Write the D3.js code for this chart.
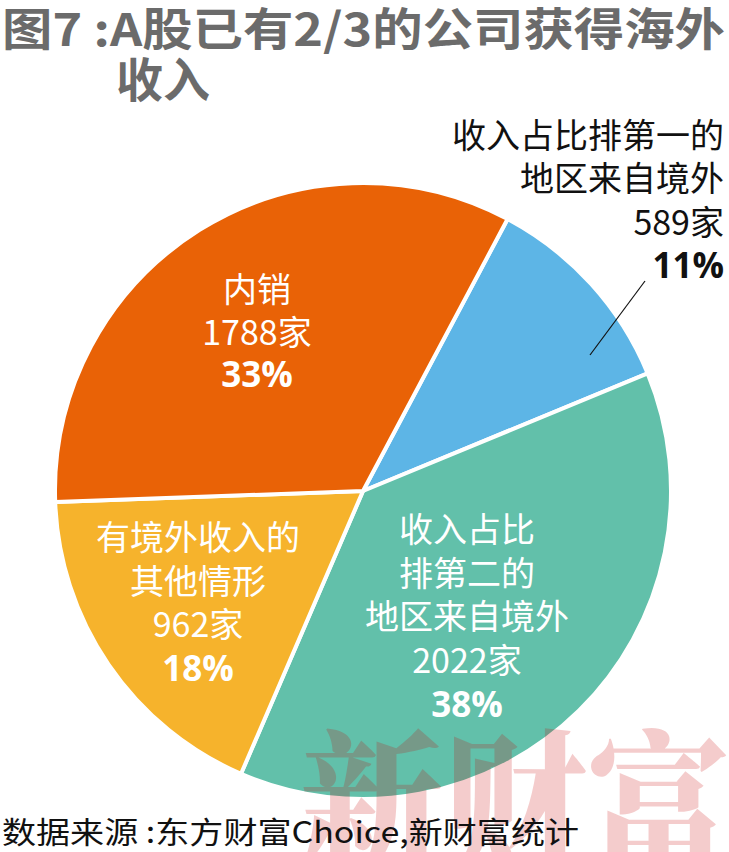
<!DOCTYPE html>
<html><head><meta charset="utf-8">
<script src="https://cdn.jsdelivr.net/npm/d3@7"></script>
<style>
html,body{margin:0;padding:0;background:#fff;}
svg{display:block;font-family:"Noto Sans CJK SC","Noto Sans",sans-serif;}
</style></head>
<body><svg id="c" width="729" height="852"></svg>
<script>
const categories = ["收入占比排第一的地区来自境外", "收入占比排第二的地区来自境外", "有境外收入的其他情形", "内销"];
const counts = [589, 2022, 962, 1788];
const percents = ["11%", "38%", "18%", "33%"];
const labelLines = [
  ["收入占比排第一的", "地区来自境外"],
  ["收入占比", "排第二的", "地区来自境外"],
  ["有境外收入的", "其他情形"],
  ["内销"]
];
const colors = ["#5db5e6", "#62c0aa", "#f6b32c", "#e96206"];
const titleLines = ["图7 :A股已有2/3的公司获得海外", "收入"];
const sourceText = "数据来源 :东方财富Choice,新财富统计";
const watermark = "新财富";

const svg = d3.select("#c");
const cx = 363, cy = 491, R = 308;
const start = 28 * Math.PI / 180;

// title
svg.append("text").attr("x", 2).attr("y", 46).attr("fill", "#6b6b6b")
  .attr("font-size", 45).attr("font-weight", 700).attr("textLength", 723).attr("lengthAdjust","spacingAndGlyphs")
  .text(titleLines[0]);
svg.append("text").attr("x", 116).attr("y", 97).attr("fill", "#6b6b6b")
  .attr("font-size", 47).attr("font-weight", 700).text(titleLines[1]);

const pie = d3.pie().sort(null).value(d => d).startAngle(start).endAngle(start + 2 * Math.PI);
const arcs = pie(counts);
const arc = d3.arc().innerRadius(0).outerRadius(R);
const g = svg.append("g").attr("transform", `translate(${cx},${cy})`);
g.selectAll("path").data(arcs).join("path")
  .attr("d", arc).attr("fill", (d, i) => colors[i])
  .attr("stroke", "#fff").attr("stroke-width", 4).attr("stroke-linejoin", "round");

function lbl(lines, x, y0, lh, color, anchor) {
  const t = svg.append("g");
  lines.forEach((l, k) => {
    t.append("text").attr("x", x).attr("y", y0 + k * lh).attr("text-anchor", anchor)
      .attr("fill", color).attr("font-size", l.bold ? 35 : 34).attr("font-weight", l.bold ? 700 : 400)
      .attr("font-family", l.bold ? "'Open Sans','Noto Sans',sans-serif" : null)
      .text(l.t);
  });
}
function mk(i) {
  return labelLines[i].map(t => ({t})).concat([{t: counts[i] + "家"}, {t: percents[i], bold: true}]);
}
lbl(mk(3), 257, 302, 42.5, "#fff", "middle");
lbl(mk(1), 467, 542, 43.7, "#fff", "middle");
lbl(mk(2), 198, 550, 43.5, "#fff", "middle");
lbl(mk(0), 724, 148, 43.3, "#111", "end");

// leader line
svg.append("line")
  .attr("x1", 645).attr("y1", 281)
  .attr("x2", 590).attr("y2", 355)
  .attr("stroke", "#111").attr("stroke-width", 1.2);

// watermark
svg.append("text").attr("x", 300).attr("y", 862).attr("font-size", 156)
  .attr("font-family", "'Noto Serif CJK SC','Noto Sans CJK SC',serif").attr("font-weight", 900)
  .attr("fill", "#c80000").attr("fill-opacity", 0.2)
  .attr("textLength", 430).attr("lengthAdjust", "spacingAndGlyphs").text(watermark);

// source
svg.append("text").attr("x", 2).attr("y", 843).attr("font-size", 30).attr("fill", "#111")
  .attr("textLength", 577).attr("lengthAdjust", "spacingAndGlyphs").text(sourceText);
</script></body></html>
